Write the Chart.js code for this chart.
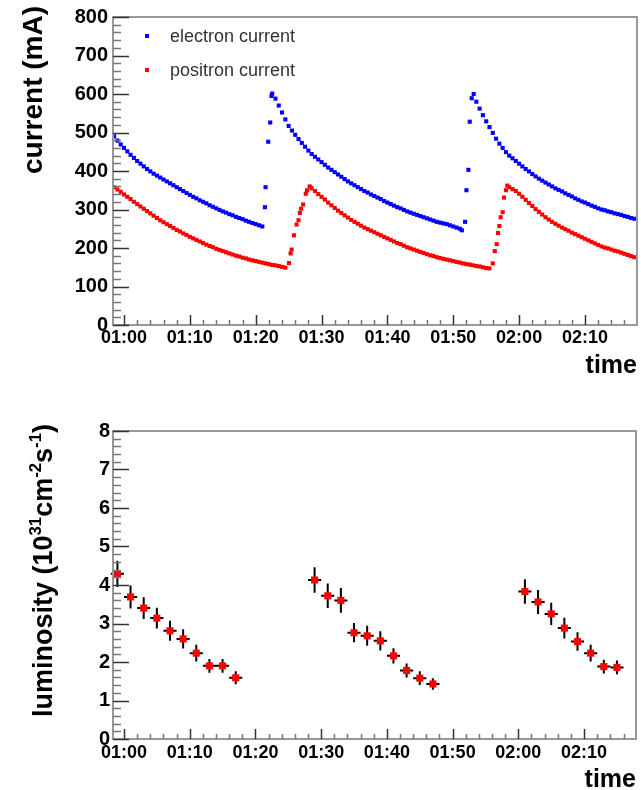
<!DOCTYPE html>
<html>
<head>
<meta charset="utf-8">
<script src="https://cdn.jsdelivr.net/npm/chart.js@4.4.1/dist/chart.umd.min.js"></script>
<style>
  html, body { margin: 0; padding: 0; background: #fff; }
  #wrap { position: relative; width: 641px; height: 790px; }
  .box { position: absolute; left: 0; width: 641px; height: 395px; }
</style>
</head>
<body>
<div id="wrap">
  <div class="box" style="top:0"><canvas id="currentChart"></canvas></div>
  <div class="box" style="top:395px"><canvas id="lumiChart"></canvas></div>
</div>
<script>
// time axis: minutes after 01:00
const timeMin = -1.67;
const timeMax = 77.9;
const sampleStep = 0.5;

// electron current (mA), decays sampled every 0.5 min
const electronDecay1Start = -1.5;
const electronDecay1 = [490,479,469,460,451,442,434,426,419,412,405,399,393,388,383,378,373,368,363,358,353,348,343,338,333,329,324,320,316,311,307,303,299,295,292,288,285,281,278,275,271,268,265,262,259,256];
const electronDecay2Start = 23.0;
const electronDecay2 = [588,570,552,534,517,505,494,483,473,463,453,444,437,430,423,416,409,403,397,391,385,379,373,368,363,358,353,348,344,339,335,331,327,322,318,314,310,306,303,299,295,292,289,286,283,280,277,274,271,268,266,264,262,259,256,253,250];
const electronDecay3Start = 53.5;
const electronDecay3 = [580,562,545,529,514,499,484,471,460,449,440,433,426,419,412,405,399,392,386,380,375,370,365,360,355,351,347,342,338,334,329,325,321,318,314,310,307,303,300,298,295,293,290,288,286,283,281,278,276];
// electron injections
const electronInjTime = [21.4, 21.5, 21.9, 22.2, 22.4, 22.5, 51.3, 51.8, 52.0, 52.3, 52.5, 52.8, 53.1];
const electronInjCurrent = [306, 358, 476, 526, 595, 601, 246, 268, 350, 403, 528, 589, 600];

// positron current (mA)
const positronDecay1Start = -1.5;
const positronDecay1 = [358,352,346,339,333,327,320,314,308,302,296,290,284,278,272,267,262,257,252,247,243,238,234,229,225,221,217,213,209,205,202,198,195,192,189,186,183,180,178,175,173,170,168,166,164,162,160,158,156,155,153,151,149];
const positronDecay2Start = 28.5;
const positronDecay2 = [355,348,340,333,326,318,311,304,297,291,285,279,273,268,263,258,253,249,245,241,237,233,229,225,221,217,213,210,206,202,199,196,193,190,187,184,181,179,176,174,172,170,168,166,164,162,160,158,157,155,153,152,150,148,147];
const positronDecay3Start = 58.5;
const positronDecay3 = [358,353,348,341,333,325,317,309,301,294,287,280,274,268,263,258,253,249,245,240,236,232,228,224,220,216,212,208,204,201,199,196,193,191,188,185,182,179,176];
// positron injections
const positronInjTime = [25.05, 25.3, 25.45, 25.8, 26.2, 26.5, 26.7, 26.9, 27.2, 27.6, 27.8, 28.2, 56.0, 56.3, 56.6, 56.8, 57.0, 57.2, 57.5, 57.7, 58.0, 58.2];
const positronInjCurrent = [161, 186, 196, 233, 261, 272, 291, 302, 313, 341, 350, 360, 160, 192, 210, 239, 257, 280, 293, 331, 350, 362];

// luminosity (10^31 cm^-2 s^-1), 2 min bins
const lumTime = [-1, 1, 3, 5, 7, 9, 11, 13, 15, 17, 29, 31, 33, 35, 37, 39, 41, 43, 45, 47, 61, 63, 65, 67, 69, 71, 73, 75];
const lumValue = [4.29, 3.69, 3.40, 3.14, 2.81, 2.60, 2.23, 1.90, 1.90, 1.59, 4.13, 3.72, 3.60, 2.76, 2.68, 2.55, 2.16, 1.78, 1.58, 1.43, 3.83, 3.56, 3.25, 2.88, 2.53, 2.23, 1.88, 1.86];
const lumError = [0.34, 0.30, 0.28, 0.27, 0.26, 0.25, 0.22, 0.18, 0.18, 0.17, 0.33, 0.32, 0.32, 0.25, 0.26, 0.25, 0.20, 0.18, 0.18, 0.15, 0.32, 0.31, 0.29, 0.27, 0.24, 0.22, 0.18, 0.18];
const timeHalfWidth = 1;

const FONT = "'Liberation Sans', Arial, Helvetica, sans-serif";

function segment(start, values) {
  return values.map((v, i) => ({ x: start + i * sampleStep, y: v }));
}
function pairs(times, values) {
  return times.map((t, i) => ({ x: t, y: values[i] }));
}
function clock(v) {
  const m = Math.round(60 + v);
  const h = Math.floor(m / 60);
  return String(h).padStart(2, "0") + ":" + String(m % 60).padStart(2, "0");
}

function drawVertical(ctx, parts, x, y, size) {
  ctx.save();
  ctx.translate(x, y);
  ctx.rotate(-Math.PI / 2);
  ctx.fillStyle = "#000";
  ctx.textAlign = "left";
  ctx.textBaseline = "alphabetic";
  let cx = 0;
  parts.forEach(p => {
    const s = p.sup ? size * 0.62 : size;
    ctx.font = "bold " + s + "px " + FONT;
    ctx.fillText(p.text, cx, p.sup ? -size * 0.42 : 0);
    cx += ctx.measureText(p.text).width;
  });
  ctx.restore();
}

// ROOT-like frame: grey box, inner ticks, titles, error bars, legend
const rootFrame = {
  id: "rootFrame",
  beforeDatasetsDraw(chart, args, o) {
    if (!o.errors) return;
    const ctx = chart.ctx, xs = chart.scales.x, ys = chart.scales.y;
    ctx.save();
    ctx.strokeStyle = "#000";
    ctx.lineWidth = 2;
    lumTime.forEach((t, i) => {
      const px = xs.getPixelForValue(t), py = ys.getPixelForValue(lumValue[i]);
      ctx.beginPath();
      ctx.moveTo(px, ys.getPixelForValue(lumValue[i] - lumError[i]));
      ctx.lineTo(px, ys.getPixelForValue(lumValue[i] + lumError[i]));
      ctx.moveTo(xs.getPixelForValue(t - timeHalfWidth), py);
      ctx.lineTo(xs.getPixelForValue(t + timeHalfWidth), py);
      ctx.stroke();
    });
    ctx.restore();
  },
  afterDatasetsDraw(chart, args, o) {
    if (!o.legend) return;
    const ctx = chart.ctx, a = chart.chartArea;
    ctx.save();
    ctx.font = "18px " + FONT;
    ctx.textBaseline = "middle";
    chart.data.datasets.forEach((ds, i) => {
      const y = a.top + 19 + i * 34;
      ctx.fillStyle = ds.backgroundColor;
      ctx.fillRect(a.left + 32, y - 2, 4, 4);
      ctx.fillStyle = "#333";
      ctx.fillText(ds.label, a.left + 57, y + 1);
    });
    ctx.restore();
  },
  afterDraw(chart, args, o) {
    const ctx = chart.ctx, a = chart.chartArea, xs = chart.scales.x, ys = chart.scales.y;
    ctx.save();
    ctx.strokeStyle = "#999";
    ctx.lineWidth = 2;
    ctx.strokeRect(a.left, a.top, a.right - a.left, a.bottom - a.top);

    ctx.lineWidth = 1.5;
    for (let v = Math.ceil(ys.min / o.yMinor) * o.yMinor; v <= ys.max + 1e-9; v += o.yMinor) {
      const major = Math.abs(v / o.yMajor - Math.round(v / o.yMajor)) < 1e-6;
      const py = Math.round(ys.getPixelForValue(v)) + 0.5;
      ctx.strokeStyle = major ? "#333" : "#777";
      ctx.beginPath();
      ctx.moveTo(a.left, py);
      ctx.lineTo(a.left + (major ? 16 : 8), py);
      ctx.stroke();
    }
    for (let v = Math.ceil(xs.min / o.xMinor) * o.xMinor; v <= xs.max + 1e-9; v += o.xMinor) {
      const major = Math.abs(v / o.xMajor - Math.round(v / o.xMajor)) < 1e-6;
      const px = Math.round(xs.getPixelForValue(v)) + 0.5;
      ctx.strokeStyle = major ? "#333" : "#777";
      ctx.beginPath();
      ctx.moveTo(px, a.bottom);
      ctx.lineTo(px, a.bottom - (major ? 10 : 5));
      ctx.stroke();
    }

    drawVertical(ctx, o.yTitle, o.yTitleX, o.yTitleY, o.yTitleSize);

    ctx.fillStyle = "#000";
    ctx.font = "bold 25px " + FONT;
    ctx.textAlign = "right";
    ctx.textBaseline = "alphabetic";
    ctx.fillText("time", a.right, o.timeY);
    ctx.restore();
  }
};

function xAxis(height, pad) {
  return {
    type: "linear",
    min: timeMin,
    max: timeMax,
    grid: { display: false, drawTicks: false },
    border: { display: false },
    ticks: {
      stepSize: 10,
      includeBounds: false,
      callback: clock,
      padding: pad,
      maxRotation: 0,
      autoSkip: false,
      color: "#000",
      font: { family: FONT, size: 18, weight: "bold" }
    },
    afterFit: s => { s.height = height; }
  };
}
function yAxis(max, step, pad) {
  return {
    min: 0,
    max: max,
    grid: { display: false, drawTicks: false },
    border: { display: false },
    ticks: {
      stepSize: step,
      padding: pad,
      color: "#000",
      font: { family: FONT, size: 20, weight: "bold" }
    },
    afterFit: s => { s.width = 113; }
  };
}

new Chart(document.getElementById("currentChart"), {
  type: "scatter",
  data: {
    datasets: [
      {
        label: "electron current",
        data: [
          ...segment(electronDecay1Start, electronDecay1),
          ...pairs(electronInjTime, electronInjCurrent),
          ...segment(electronDecay2Start, electronDecay2),
          ...segment(electronDecay3Start, electronDecay3)
        ],
        backgroundColor: "#0000ff",
        pointStyle: "rect",
        pointRadius: 2.9,
        borderWidth: 0
      },
      {
        label: "positron current",
        data: [
          ...segment(positronDecay1Start, positronDecay1),
          ...pairs(positronInjTime, positronInjCurrent),
          ...segment(positronDecay2Start, positronDecay2),
          ...segment(positronDecay3Start, positronDecay3)
        ],
        backgroundColor: "#ff0000",
        pointStyle: "rect",
        pointRadius: 2.9,
        borderWidth: 0
      }
    ]
  },
  options: {
    animation: false,
    responsive: true,
    maintainAspectRatio: false,
    events: [],
    layout: { padding: { top: 16, right: 3, left: 0, bottom: 0 } },
    plugins: {
      legend: { display: false },
      tooltip: { enabled: false },
      rootFrame: {
        legend: true,
        xMajor: 10, xMinor: 2, yMajor: 100, yMinor: 20,
        yTitle: [{ text: "current (mA)" }],
        yTitleX: 42, yTitleY: 174, yTitleSize: 28,
        timeY: 373
      }
    },
    scales: { x: xAxis(70, 2), y: yAxis(800, 100, 5) }
  },
  plugins: [rootFrame]
});

new Chart(document.getElementById("lumiChart"), {
  type: "scatter",
  data: {
    datasets: [
      {
        label: "luminosity",
        data: pairs(lumTime, lumValue),
        backgroundColor: "#ff0000",
        pointStyle: "rect",
        pointRadius: 5,
        borderWidth: 0
      }
    ]
  },
  options: {
    animation: false,
    responsive: true,
    maintainAspectRatio: false,
    events: [],
    layout: { padding: { top: 36, right: 3, left: 0, bottom: 0 } },
    plugins: {
      legend: { display: false },
      tooltip: { enabled: false },
      rootFrame: {
        errors: true,
        xMajor: 10, xMinor: 2, yMajor: 1, yMinor: 0.2,
        yTitle: [
          { text: "luminosity (10" }, { text: "31", sup: true },
          { text: "cm" }, { text: "-2", sup: true },
          { text: "s" }, { text: "-1", sup: true }, { text: ")" }
        ],
        yTitleX: 52, yTitleY: 322, yTitleSize: 27,
        timeY: 392
      }
    },
    scales: { x: xAxis(51, 3), y: yAxis(8, 1, 3) }
  },
  plugins: [rootFrame]
});
</script>
</body>
</html>
